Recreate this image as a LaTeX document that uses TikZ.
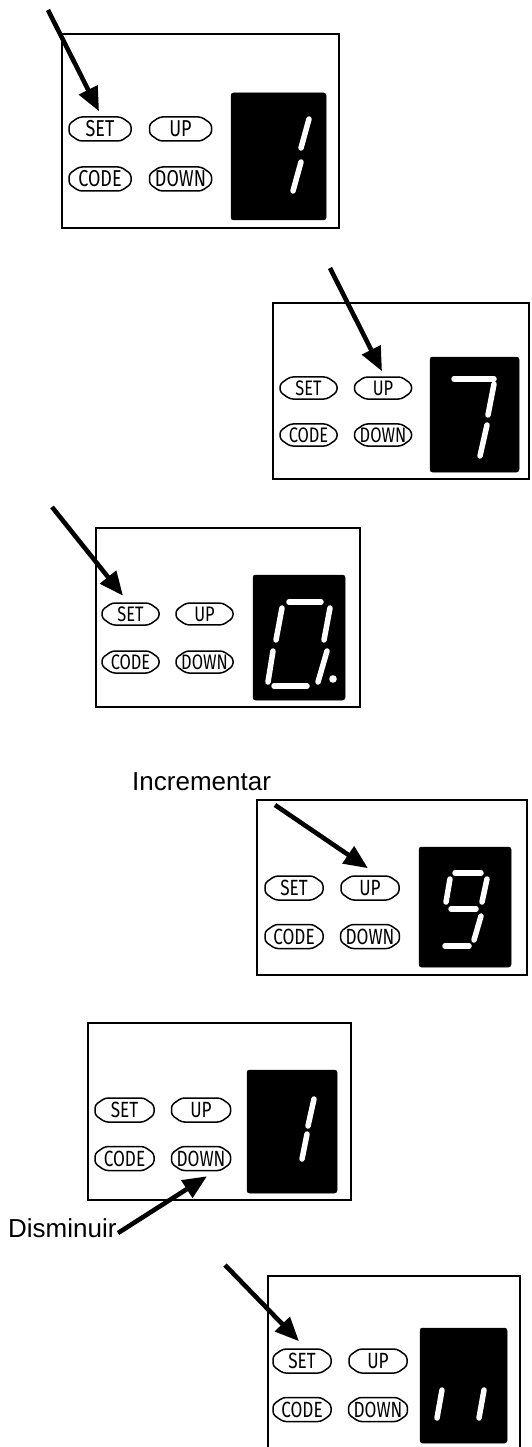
\documentclass[tikz,border=0pt]{standalone}
\usepackage{fontspec}
\usepackage{graphicx}
\setmainfont{Liberation Sans}
\newfontfamily\btnfont{Fira Sans}
\usetikzlibrary{arrows.meta,shapes.misc,calc}
\tikzset{
  panel/.style={draw=black, line width=2.4pt},
  lcd/.style={fill=black, draw=black, line width=0.5pt, rounded corners=2.5pt},
  seg/.style={white, line width=5.5pt, line cap=round},
  arr/.style={line width=4.6pt, -{Triangle[length=24pt,width=20pt]}},
  btn/.style 2 args={chamfered rectangle, chamfered rectangle xsep=5pt,
    chamfered rectangle angle=55, rounded corners=3pt, draw=black,
    line width=1.5pt, minimum width=#1, minimum height=#2, inner sep=0pt},
  lbl/.style={font=\fontsize{26}{30}\selectfont, inner sep=0pt, anchor=base west},
}
\newcommand{\btxt}[2]{{\fontsize{#1pt}{#1pt}\selectfont\btnfont\scalebox{0.78}[1]{#2}}}
\newcommand{\keypad}[8]{%
  \node[btn={#6pt}{#7pt}] (#1set) at (#2,#4) {\btxt{#8}{SET}};
  \node[btn={#6pt}{#7pt}] (#1up) at (#3,#4) {\btxt{#8}{UP}};
  \node[btn={#6pt}{#7pt}] (#1code) at (#2,#5) {\btxt{#8}{CODE}};
  \node[btn={#6pt}{#7pt}] (#1down) at (#3,#5) {\btxt{#8}{DOWN}};
}
\begin{document}
\begin{tikzpicture}[x=1pt,y=-1pt]
\useasboundingbox (0,0) rectangle (531,1447);
\clip (0,0) rectangle (531,1447);
% ---- panel 1
\draw[panel] (62,34) rectangle (339,228);
\filldraw[lcd] (231,93) rectangle (326,220);
\fill[black] (234,96) rectangle (323,217);
\draw[seg] (309,119) -- (301,148);
\draw[seg] (301,162) -- (293,191);
\keypad{a}{100}{180.5}{129}{179}{62}{24}{23}
\coordinate (sa) at (48,10);
\draw[arr] (sa) -- ($(aset.north)+(-1,-5)$);
% ---- panel 2
\draw[panel] (273,303) rectangle (529,479);
\filldraw[lcd] (430,357) rectangle (519,472);
\draw[seg] (454,379) -- (494,379);
\draw[seg] (494,384) -- (488,415);
\draw[seg] (487,425) -- (480,456);
\keypad{b}{308.5}{383}{388}{435}{57}{22}{21}
\coordinate (sb) at (330,268);
\draw[arr] (sb) -- ($(bup.north)+(-1,-5)$);
% ---- panel 3
\draw[panel] (96,528) rectangle (360,707);
\filldraw[lcd] (253,575) rectangle (345,700);
\draw[seg] (289,602) -- (321,602);
\draw[seg] (282,608) -- (276,640);
\draw[seg] (330,608) -- (324,640);
\draw[seg] (273,651) -- (268,682);
\draw[seg] (327,651) -- (318,682);
\draw[seg] (274,686) -- (307,686);
\fill[white] (333,679) circle (3.8);
\keypad{c}{130.5}{204.5}{614}{662}{57}{21}{21}
\coordinate (sc) at (52,507);
\draw[arr] (sc) -- ($(cset.north)+(-7.5,-6.5)$);
% ---- panel 4
\draw[panel] (257,800) rectangle (527,975);
\filldraw[lcd] (419,847) rectangle (511,967);
\draw[seg] (455,873) -- (481,873);
\draw[seg] (450,879) -- (446,902);
\draw[seg] (487,879) -- (482,902);
\draw[seg] (451,909) -- (476,909);
\draw[seg] (481,916) -- (474,940);
\draw[seg] (445,946) -- (469,946);
\keypad{d}{294}{370}{888}{936.5}{58}{24}{22}
\node[lbl] (inc) at (132,790) {Incrementar};
\coordinate (sd) at (275,805);
\draw[arr] (sd) -- ($(dup.north)+(-2,-7)$);
% ---- panel 5
\draw[panel] (88,1023) rectangle (351,1200);
\filldraw[lcd] (247,1070) rectangle (337,1193);
\draw[seg] (314,1099) -- (308,1126);
\draw[seg] (307,1134) -- (302,1159);
\keypad{e}{124.5}{201}{1110}{1158.5}{59}{24}{22}
\node[lbl] (dis) at (8,1237) {Disminuir};
\coordinate (se) at (118,1233);
\draw[arr] (se) -- ($(edown.south)+(6,5)$);
% ---- panel 6
\draw[panel] (268,1470) -- (268,1276) -- (520,1276) -- (520,1470);
\filldraw[lcd] (420,1328) rectangle (507,1443);
\draw[seg] (442,1390) -- (437,1418);
\draw[seg] (484,1390) -- (479,1418);
\keypad{f}{302}{378}{1361}{1409.5}{58}{24}{22}
\coordinate (sf) at (225,1265);
\draw[arr] (sf) -- ($(fset.north)+(-3,-7)$);
\end{tikzpicture}
\end{document}
